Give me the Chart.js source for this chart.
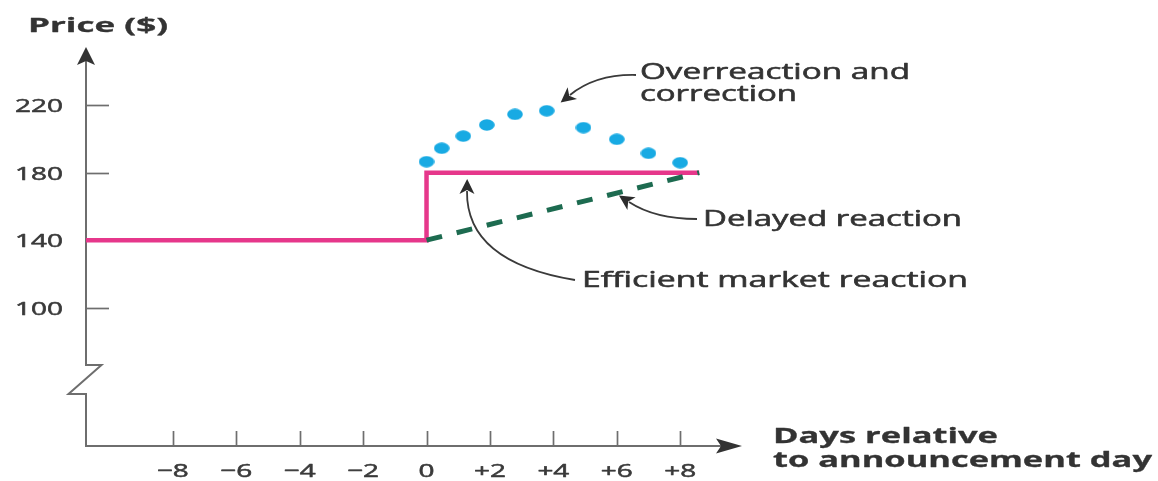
<!DOCTYPE html>
<html>
<head>
<meta charset="utf-8">
<title>Price reaction around announcement day</title>
<script src="https://cdn.jsdelivr.net/npm/chart.js@4"></script>
<style>
  html, body { margin: 0; padding: 0; background: #ffffff; }
  #wrap { width: 1158px; height: 481px; }
</style>
</head>
<body>
<div id="wrap"><canvas id="chart" width="1158" height="481"></canvas></div>
<script>
// Day axis ticks and their printed labels
const dayTicks = [-8, -6, -4, -2, 0, 2, 4, 6, 8];
const dayLabels = ['\u22128', '\u22126', '\u22124', '\u22122', '0', '+2', '+4', '+6', '+8'];

// Price axis ticks
const priceTicks = [100, 140, 180, 220];
const priceLabels = ['100', '140', '180', '220'];

// Efficient market reaction: flat, then an immediate jump on day 0
const efficientDays = [-10.74, 0, 0, 8.6];
const efficientPrice = [140, 140, 180, 180];

// Delayed reaction: gradual drift to the new level
const delayedDays = [0, 8.6];
const delayedPrice = [140, 180];

// Overreaction and correction
const overDays = [0.0, 0.48, 1.16, 1.9, 2.79, 3.79, 4.95, 6.0, 7.0, 8.0];
const overPrice = [186.5, 194.5, 201.7, 208.3, 214.6, 216.7, 206.7, 199.8, 191.5, 185.9];

const toPoints = (xs, ys) => xs.map((x, i) => ({ x: x, y: ys[i] }));

const INK = '#333333';
const AXIS = '#6e6e6e';
const FONT = '"Open Sans", "DejaVu Sans", sans-serif';

// Slightly oval dot used for the overreaction path
const dot = document.createElement('canvas');
dot.width = 16; dot.height = 12;
(function () {
  const c = dot.getContext('2d');
  c.fillStyle = '#18aae3';
  c.beginPath();
  c.ellipse(8, 6, 7.8, 5.8, 0, 0, Math.PI * 2);
  c.fill();
})();

// Draw text stretched horizontally so it spans a given width
function fitText(ctx, text, x, baseline, font, width, align, color, weight) {
  ctx.save();
  ctx.font = font;
  ctx.fillStyle = color || INK;
  ctx.strokeStyle = color || INK;
  ctx.lineWidth = weight === undefined ? 0.55 : weight;
  ctx.lineJoin = 'round';
  ctx.textBaseline = 'alphabetic';
  const natural = ctx.measureText(text).width;
  const sx = width / natural;
  let left = x;
  if (align === 'right') left = x - width;
  if (align === 'center') left = x - width / 2;
  ctx.translate(left, baseline);
  ctx.scale(sx, 1);
  ctx.textAlign = 'left';
  ctx.fillText(text, 0, 0);
  if (ctx.lineWidth > 0) ctx.strokeText(text, 0, 0);
  ctx.restore();
}

function scaledText(ctx, text, x, baseline, font, sx, align, color) {
  ctx.save();
  ctx.font = font;
  const w = ctx.measureText(text).width * sx;
  ctx.restore();
  fitText(ctx, text, x, baseline, font, w, align, color);
}

function arrowHead(ctx, tipX, tipY, dirX, dirY, len, half, notch) {
  const n = Math.hypot(dirX, dirY);
  const ux = dirX / n, uy = dirY / n;
  const px = -uy, py = ux;
  const bx = tipX - ux * len, by = tipY - uy * len;
  ctx.beginPath();
  ctx.moveTo(tipX, tipY);
  ctx.lineTo(bx + px * half, by + py * half);
  ctx.lineTo(tipX - ux * (len - notch), tipY - uy * (len - notch));
  ctx.lineTo(bx - px * half, by - py * half);
  ctx.closePath();
  ctx.fill();
}

// Curved pointer from a label to a line
function curvedArrow(ctx, x0, y0, cx, cy, x1, y1) {
  ctx.save();
  ctx.strokeStyle = '#3a3a3a';
  ctx.fillStyle = '#2c2c2c';
  ctx.lineWidth = 1.8;
  ctx.beginPath();
  ctx.moveTo(x0, y0);
  ctx.quadraticCurveTo(cx, cy, x1, y1);
  ctx.stroke();
  const dx = x1 - cx, dy = y1 - cy;
  const n = Math.hypot(dx, dy);
  const len = 15;
  arrowHead(ctx, x1 + dx / n * (len - 3), y1 + dy / n * (len - 3), dx, dy, len, 7.5, 4);
  ctx.restore();
}

const axesPlugin = {
  id: 'axesPlugin',
  beforeDatasetsDraw(chart) {
    const ctx = chart.ctx;
    const xs = chart.scales.x, ys = chart.scales.y;
    const area = chart.chartArea;
    const x0 = area.left, yBottom = area.bottom;
    const breakTop = 365, breakBottom = 394;

    ctx.save();
    ctx.strokeStyle = AXIS;
    ctx.lineWidth = 2;
    ctx.lineJoin = 'miter';

    // Vertical axis with a break
    ctx.beginPath();
    ctx.moveTo(x0, area.top + 12);
    ctx.lineTo(x0, breakTop);
    ctx.lineTo(x0 + 15.5, breakTop);
    ctx.lineTo(x0 - 17.5, breakBottom);
    ctx.lineTo(x0, breakBottom);
    ctx.lineTo(x0, yBottom);
    // Horizontal axis
    ctx.lineTo(area.right - 12, yBottom);
    ctx.stroke();

    // Price ticks
    ctx.lineWidth = 1.7;
    priceTicks.forEach(v => {
      const y = Math.round(ys.getPixelForValue(v)) + 0.5;
      ctx.beginPath();
      ctx.moveTo(x0, y);
      ctx.lineTo(x0 + 23, y);
      ctx.stroke();
    });
    // Day ticks
    dayTicks.forEach(d => {
      const x = Math.round(xs.getPixelForValue(d)) + 0.5;
      ctx.beginPath();
      ctx.moveTo(x, yBottom);
      ctx.lineTo(x, yBottom - 15);
      ctx.stroke();
    });

    // Arrow heads
    ctx.fillStyle = '#333333';
    arrowHead(ctx, x0, area.top, 0, -1, 18, 9, 4);
    arrowHead(ctx, area.right, yBottom, 1, 0, 26, 7.5, 5);
    ctx.restore();
  },
  afterDatasetsDraw(chart) {
    const ctx = chart.ctx;
    const xs = chart.scales.x, ys = chart.scales.y;
    const tickFont = '19px ' + FONT;

    priceTicks.forEach((v, i) => {
      const y = ys.getPixelForValue(v);
      scaledText(ctx, priceLabels[i], 63, y + 7, tickFont, 1.47, 'right', '#3a3a3a');
    });
    dayTicks.forEach((d, i) => {
      const x = xs.getPixelForValue(d);
      scaledText(ctx, dayLabels[i], x, 477, tickFont, 1.47, 'center', '#3a3a3a');
    });

    // Axis titles
    const bold = 'bold 19px ' + FONT;
    fitText(ctx, 'Price ($)', 28, 32, bold, 140, 'left', INK, 0.3);
    const bold2 = 'bold 21px ' + FONT;
    fitText(ctx, 'Days relative', 773, 443, bold2, 225, 'left', INK, 0.3);
    fitText(ctx, 'to announcement day', 773, 467, bold2, 379, 'left', INK, 0.3);

    // Annotations
    const note = '21px ' + FONT;
    fitText(ctx, 'Overreaction and', 640, 79, note, 270, 'left');
    fitText(ctx, 'correction', 640, 101, note, 157, 'left');
    fitText(ctx, 'Delayed reaction', 703, 226, note, 259, 'left');
    fitText(ctx, 'Efficient market reaction', 582, 287, note, 386, 'left');

    curvedArrow(ctx, 636, 75, 596, 74, 570, 95);
    curvedArrow(ctx, 697, 219, 655, 219, 629, 202);
    curvedArrow(ctx, 575, 280, 466, 262, 467, 191);
  }
};

new Chart(document.getElementById('chart'), {
  type: 'scatter',
  data: {
    datasets: [
      {
        label: 'Overreaction and correction',
        data: toPoints(overDays, overPrice),
        showLine: false,
        pointStyle: dot,
        pointRadius: 6,
        order: 0
      },
      {
        label: 'Delayed reaction',
        data: toPoints(delayedDays, delayedPrice),
        showLine: true,
        borderColor: '#1d6b50',
        borderWidth: 5,
        borderDash: [16, 15],
        borderCapStyle: 'butt',
        pointRadius: 0,
        order: 1
      },
      {
        label: 'Efficient market reaction',
        data: toPoints(efficientDays, efficientPrice),
        showLine: true,
        borderColor: '#e6378b',
        borderWidth: 4.5,
        borderJoinStyle: 'miter',
        borderCapStyle: 'butt',
        pointRadius: 0,
        tension: 0,
        order: 2
      }
    ]
  },
  options: {
    responsive: false,
    animation: false,
    devicePixelRatio: 1,
    layout: { padding: { left: 86, right: 416, top: 47, bottom: 35 } },
    scales: {
      x: { type: 'linear', display: false, min: -10.74, max: 9.95 },
      y: { type: 'linear', display: false, min: 18, max: 254.5 }
    },
    plugins: {
      legend: { display: false },
      tooltip: { enabled: false }
    },
    events: []
  },
  plugins: [axesPlugin]
});
</script>
</body>
</html>
